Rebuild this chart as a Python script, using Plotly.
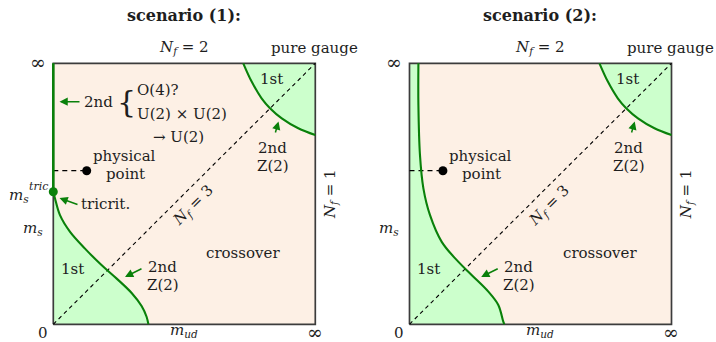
import plotly.graph_objects as go

# ---------------- data (unit square: m_ud on x, m_s on y; 1 == infinity) ----------------
scen1_boundary_mud = [0.0, 0.0065, 0.0255, 0.064, 0.121, 0.185, 0.242, 0.299, 0.337, 0.356, 0.363]
scen1_boundary_ms = [0.508, 0.482, 0.418, 0.354, 0.290, 0.226, 0.175, 0.120, 0.070, 0.029, 0.0]

scen2_boundary_mud = [0.034, 0.034, 0.040, 0.053, 0.078, 0.123, 0.186, 0.237, 0.301, 0.339, 0.358, 0.362]
scen2_boundary_ms = [1.0, 0.840, 0.648, 0.521, 0.419, 0.316, 0.240, 0.189, 0.125, 0.074, 0.010, 0.0]

gauge_boundary_mud = [0.725, 0.757, 0.795, 0.827, 0.872, 0.935, 1.0]
gauge_boundary_ms = [1.0, 0.930, 0.866, 0.828, 0.789, 0.751, 0.725]

o4_line_mud = [0.0, 0.0]
o4_line_ms = [0.508, 1.0]

tricritical_mud = [0.0]
tricritical_ms = [0.508]

physical_mud = [0.1275]
physical_ms = [0.5885]

nf3_mud = [0.0, 1.0]
nf3_ms = [0.0, 1.0]

box_mud = [0, 1, 1, 0, 0]
box_ms = [0, 0, 1, 1, 0]

titles = ["scenario (1):", "scenario (2):"]

# ---------------- styles ----------------
PEACH = "#fdf0e5"
GFILL = "#ccffcc"
GLINE = "#0a800a"
BORDER = "#3c3c3c"
TXT = "#1e1e1e"
FONT = "DejaVu Serif"
FS = 15

W, H = 716, 342
BOX = 262.0
BOXH = 261.0
TOP, BOT = 63.3, 324.3
LEFTS = [53.3, 409.5]
PAD = 0.012

fig = go.Figure()

def ax_names(i):
    return ("x", "y") if i == 0 else ("x2", "y2")

for i in range(2):
    xa, ya = ax_names(i)
    fig.add_shape(type="rect", xref=xa, yref=ya, x0=0, x1=1, y0=0, y1=1,
                  fillcolor=PEACH, line=dict(width=0), layer="below")

    # green fills
    if i == 0:
        fig.add_trace(go.Scatter(x=scen1_boundary_mud, y=scen1_boundary_ms, mode="lines",
                                 line=dict(width=0, shape="spline"), fill="tozerox",
                                 fillcolor=GFILL, xaxis=xa, yaxis=ya, hoverinfo="skip"))
    else:
        fig.add_trace(go.Scatter(x=scen2_boundary_mud, y=scen2_boundary_ms, mode="lines",
                                 line=dict(width=0, shape="spline"), fill="tozerox",
                                 fillcolor=GFILL, xaxis=xa, yaxis=ya, hoverinfo="skip"))
    fig.add_trace(go.Scatter(x=[1, 1], y=[1, gauge_boundary_ms[-1]], mode="lines",
                             line=dict(width=0), xaxis=xa, yaxis=ya, hoverinfo="skip"))
    fig.add_trace(go.Scatter(x=gauge_boundary_mud, y=gauge_boundary_ms, mode="lines",
                             line=dict(width=0, shape="spline"), fill="tonextx",
                             fillcolor=GFILL, xaxis=xa, yaxis=ya, hoverinfo="skip"))

    # border
    fig.add_trace(go.Scatter(x=box_mud, y=box_ms, mode="lines",
                             line=dict(color=BORDER, width=1.7), xaxis=xa, yaxis=ya,
                             hoverinfo="skip"))
    # N_f = 3 diagonal
    fig.add_trace(go.Scatter(x=nf3_mud, y=nf3_ms, mode="lines",
                             line=dict(color="black", width=1.1, dash="4px,3.5px"),
                             xaxis=xa, yaxis=ya, hoverinfo="skip"))
    # physical point dashed guide
    fig.add_trace(go.Scatter(x=[0, physical_mud[0]], y=[physical_ms[0], physical_ms[0]],
                             mode="lines", line=dict(color="black", width=1.3, dash="5px,4px"),
                             xaxis=xa, yaxis=ya, hoverinfo="skip"))

    # green critical lines
    if i == 0:
        fig.add_trace(go.Scatter(x=scen1_boundary_mud, y=scen1_boundary_ms, mode="lines",
                                 line=dict(color=GLINE, width=2.1, shape="spline"),
                                 xaxis=xa, yaxis=ya, hoverinfo="skip"))
        fig.add_trace(go.Scatter(x=o4_line_mud, y=o4_line_ms, mode="lines",
                                 line=dict(color=GLINE, width=2.6),
                                 xaxis=xa, yaxis=ya, hoverinfo="skip"))
        fig.add_trace(go.Scatter(x=tricritical_mud, y=tricritical_ms, mode="markers",
                                 marker=dict(color=GLINE, size=9), cliponaxis=False,
                                 xaxis=xa, yaxis=ya, hoverinfo="skip"))
    else:
        fig.add_trace(go.Scatter(x=scen2_boundary_mud, y=scen2_boundary_ms, mode="lines",
                                 line=dict(color=GLINE, width=2.1, shape="spline"),
                                 xaxis=xa, yaxis=ya, hoverinfo="skip"))
    fig.add_trace(go.Scatter(x=gauge_boundary_mud, y=gauge_boundary_ms, mode="lines",
                             line=dict(color=GLINE, width=2.1, shape="spline"),
                             xaxis=xa, yaxis=ya, hoverinfo="skip"))
    fig.add_trace(go.Scatter(x=physical_mud, y=physical_ms, mode="markers",
                             marker=dict(color="black", size=9),
                             xaxis=xa, yaxis=ya, hoverinfo="skip"))

# ---------------- axes ----------------
layout_axes = {}
for i in range(2):
    L = LEFTS[i]
    d0 = (L - PAD * BOX) / W
    d1 = (L + BOX + PAD * BOX) / W
    y0 = 1 - (BOT + PAD * BOXH) / H
    y1 = 1 - (TOP - PAD * BOXH) / H
    common = dict(range=[-PAD, 1 + PAD], showgrid=False, zeroline=False,
                  showticklabels=False, showline=False, ticks="", fixedrange=True)
    xk = "xaxis" if i == 0 else "xaxis2"
    yk = "yaxis" if i == 0 else "yaxis2"
    layout_axes[xk] = dict(domain=[d0, d1], anchor="y" if i == 0 else "y2", **common)
    layout_axes[yk] = dict(domain=[y0, y1], anchor="x" if i == 0 else "x2", **common)

# ---------------- annotations (positions given in pixel frame of the left panel) ----------------
anns = []

def txt(i, px, py, text, size=FS, angle=0, xanchor="center", color=TXT, bold=False):
    gx = px + (LEFTS[i] - LEFTS[0])
    if bold:
        text = "<b>" + text + "</b>"
    anns.append(dict(xref="paper", yref="paper", x=gx / W, y=1 - py / H, text=text,
                     showarrow=False, xanchor=xanchor, yanchor="middle", textangle=angle,
                     font=dict(family=FONT, size=size, color=color)))

def to_data(px, py):
    return (px - LEFTS[0]) / BOX, (BOT - py) / BOXH

def arrow(i, tx, ty, hx, hy):
    xa, ya = ax_names(i)
    x, y = to_data(hx, hy)
    ax, ay = to_data(tx, ty)
    anns.append(dict(xref=xa, yref=ya, axref=xa, ayref=ya, x=x, y=y, ax=ax, ay=ay,
                     text="", showarrow=True, arrowhead=2, arrowsize=1.1, arrowwidth=1.5,
                     arrowcolor=GLINE, standoff=0, startstandoff=0))

NF = "<i>N</i><sub><i>f</i></sub>"
for i in range(2):
    txt(i, 184, 15.7, titles[i], size=16, bold=True)
    txt(i, 184, 47.5, NF + " = 2")
    txt(i, 314, 48, "pure gauge")
    txt(i, 37.5, 62, "∞", size=19)
    txt(i, 42.5, 332.5, "0")
    txt(i, 184, 330.5, "<i>m</i><sub><i>ud</i></sub>")
    txt(i, 315, 332, "∞", size=19)
    txt(i, 33, 228, "<i>m</i><sub><i>s</i></sub>")
    txt(i, 330, 194, NF + " = 1", angle=-90)
    txt(i, 193, 205, NF + " = 3", angle=-45)
    txt(i, 243.3, 253, "crossover")
    txt(i, 271, 79, "1st")
    txt(i, 272.5, 147.5, "2nd")
    txt(i, 272.5, 165.5, "Z(2)")
    arrow(i, 275, 134, 278.5, 121.5)
    txt(i, 72.5, 269, "1st")
    txt(i, 162.5, 266.7, "2nd")
    txt(i, 162.5, 284.5, "Z(2)")
    arrow(i, 143, 268, 125, 277)
    txt(i, 124.7, 155.8, "physical")
    txt(i, 125, 174.5, "point")

# scenario (1) extras
txt(0, 19, 195, "<i>m</i><sub><i>s</i></sub>")
txt(0, 38.5, 186.5, "<i>tric</i>", size=11)
txt(0, 105, 204, "tricrit.")
arrow(0, 79, 205, 59.5, 198)
txt(0, 98.8, 101.7, "2nd")
arrow(0, 81, 101.7, 59.5, 101.7)
txt(0, 126.7, 101.7, "{", size=30)
txt(0, 135, 90, "O(4)?", xanchor="left")
txt(0, 135, 114.5, "U(2) × U(2)", xanchor="left")
txt(0, 151, 137, "→ U(2)", xanchor="left")

fig.update_layout(width=W, height=H, margin=dict(l=0, r=0, t=0, b=0),
                  paper_bgcolor="white", plot_bgcolor="white", showlegend=False,
                  annotations=anns, **layout_axes)

fig.write_html("out.html", config={"displayModeBar": False},
               post_script="document.body.style.margin='0px';")
